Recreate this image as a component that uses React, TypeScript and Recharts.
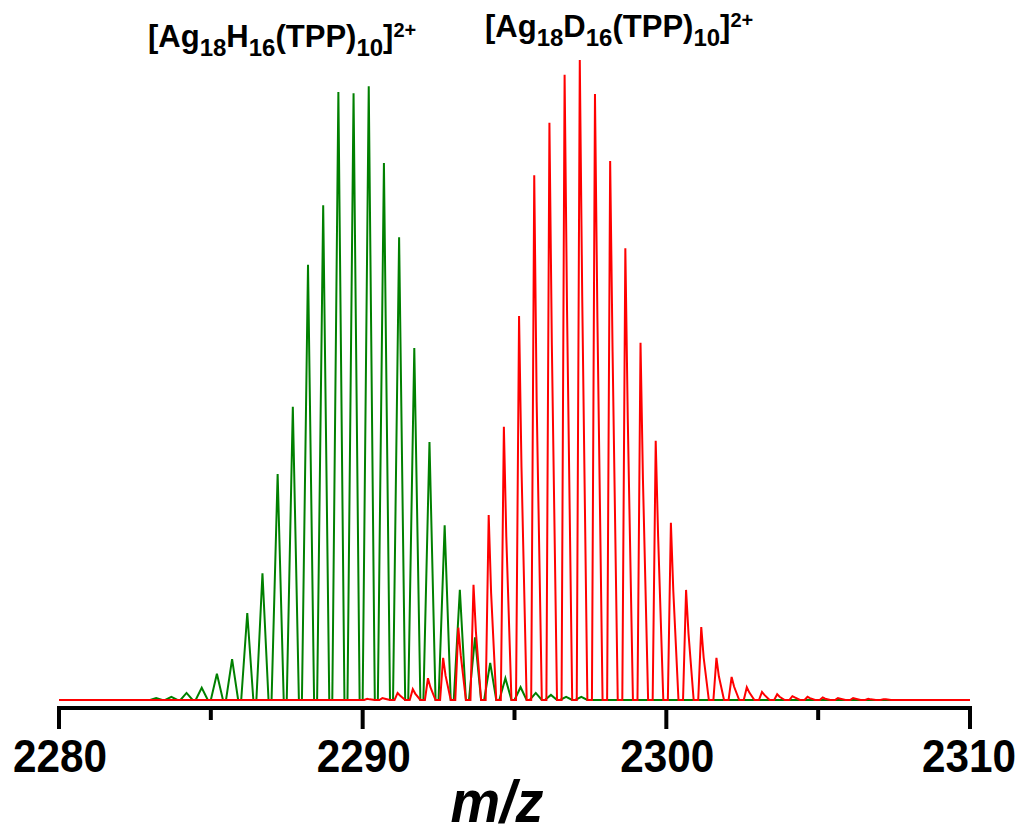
import React from 'react';
import { LineChart, Line, XAxis, YAxis } from 'recharts';

// Peak centroids (m/z) and apex intensities
const greenPeakMz = [2283.2, 2283.7, 2284.2, 2284.7, 2285.2, 2285.7, 2286.2, 2286.7, 2287.2, 2287.7, 2288.2, 2288.7, 2289.2, 2289.7, 2290.2, 2290.7, 2291.2, 2291.7, 2292.2, 2292.7, 2293.2, 2293.7, 2294.2, 2294.7, 2295.2, 2295.7, 2296.2, 2296.7, 2297.2];
const greenPeakInt = [0.3, 0.5, 1.1, 1.9, 4.1, 6.4, 13.6, 19.8, 35.3, 45.8, 68.0, 77.3, 95.0, 94.8, 95.9, 83.9, 72.3, 55.0, 40.3, 27.3, 17.2, 9.8, 5.8, 3.4, 2.0, 1.1, 0.8, 0.5, 0.5];

const redPeakMz = [2290.15, 2290.65, 2291.15, 2291.65, 2292.15, 2292.65, 2293.15, 2293.65, 2294.15, 2294.65, 2295.15, 2295.65, 2296.15, 2296.65, 2297.15, 2297.65, 2298.15, 2298.65, 2299.15, 2299.65, 2300.15, 2300.65, 2301.15, 2301.65, 2302.15, 2302.65, 2303.15, 2303.65, 2304.15, 2304.65, 2305.15, 2305.65, 2306.15, 2306.65, 2307.15];
const redPeakInt = [0.2, 0.3, 1.1, 1.7, 3.4, 6.6, 11.3, 18.0, 28.9, 42.7, 60.0, 82.0, 90.2, 97.7, 100, 94.7, 84.2, 70.6, 55.8, 40.5, 27.7, 17.2, 11.4, 6.6, 3.6, 2.0, 1.25, 0.9, 0.6, 0.5, 0.4, 0.3, 0.3, 0.2, 0.1];
const redShoulderInt = [0.1, 0.2, 0.7, 1.0, 2.0, 3.8, 7.0, 10.6, 16.7, 25.5, 36.4, 46.6, 55.5, 61, 63, 59.7, 54.4, 44, 34.4, 25.5, 17, 10.4, 6.6, 3.7, 2.1, 1.2, 0.8, 0.5, 0.4, 0.3, 0.2, 0.2, 0.2, 0.1, 0.1];

const xTicks = [2280, 2285, 2290, 2295, 2300, 2305, 2310];
const majorTicks = [2280, 2290, 2300, 2310];
const xDomain = [2280, 2310];

type Pt = { mz: number; i: number };

function buildGreen(): Pt[] {
  const out: Pt[] = [{ mz: 2280, i: 0 }];
  greenPeakMz.forEach((m, k) => {
    out.push({ mz: m - 0.2, i: 0 });
    out.push({ mz: m, i: greenPeakInt[k] });
    out.push({ mz: m + 0.2, i: 0 });
  });
  out.push({ mz: 2310, i: 0 });
  return out;
}

function buildRed(): Pt[] {
  const out: Pt[] = [{ mz: 2280, i: 0 }];
  redPeakMz.forEach((m, k) => {
    out.push({ mz: m - 0.1, i: 0 });
    out.push({ mz: m, i: redPeakInt[k] });
    out.push({ mz: m + 0.08, i: redShoulderInt[k] });
    out.push({ mz: m + 0.25, i: 0 });
  });
  out.push({ mz: 2310, i: 0 });
  return out;
}

const greenData = buildGreen();
const redData = buildRed();

const FONT = '"Liberation Sans", Arial, Helvetica, sans-serif';

const Tick = (props: any) => {
  const { x, y, payload } = props;
  const v = payload.value;
  const major = majorTicks.includes(v);
  return (
    <g>
      <line x1={x} x2={x} y1={y - 2} y2={y + (major ? 21 : 12)} stroke="#000" strokeWidth={4} />
      {major && (
        <text
          x={v === 2310 ? x - 1 : x + 1}
          y={y + 64}
          textAnchor="middle"
          fontFamily={FONT}
          fontWeight="bold"
          fontSize={46}
          textLength={94}
          lengthAdjust="spacingAndGlyphs"
          fill="#000"
        >
          {v}
        </text>
      )}
    </g>
  );
};

const Title = ({ x, y, letter }: { x: number; y: number; letter: string }) => (
  <text x={x} y={y} fontFamily={FONT} fontWeight="bold" fontSize={31} fill="#000">
    <tspan>[Ag</tspan>
    <tspan fontSize={24} dy={9}>18</tspan>
    <tspan dy={-9}>{letter}</tspan>
    <tspan fontSize={24} dy={9}>16</tspan>
    <tspan dy={-9}>(TPP)</tspan>
    <tspan fontSize={24} dy={9}>10</tspan>
    <tspan dy={-9}>]</tspan>
    <tspan fontSize={20} dy={-10}>2+</tspan>
  </text>
);

export default function App() {
  return (
    <div style={{ position: 'absolute', left: 0, top: 0, width: 1025, height: 837, background: '#fff' }}>
      <LineChart width={1025} height={837} margin={{ top: 50, right: 55, bottom: 0, left: 59 }}>
        <XAxis
          dataKey="mz"
          type="number"
          domain={xDomain}
          ticks={xTicks}
          interval={0}
          allowDataOverflow
          height={129}
          tickSize={0}
          tickMargin={0}
          tickLine={false}
          axisLine={{ stroke: '#000', strokeWidth: 4 }}
          tick={<Tick />}
        />
        <YAxis hide type="number" domain={[-1.25, 101.5625]} allowDataOverflow />
        <Line data={greenData} dataKey="i" type="linear" stroke="#008000" strokeWidth={2} dot={false} activeDot={false} isAnimationActive={false} />
        <Line data={redData} dataKey="i" type="linear" stroke="#ff0000" strokeWidth={2} dot={false} activeDot={false} isAnimationActive={false} />
      </LineChart>
      <svg width={1025} height={837} style={{ position: 'absolute', left: 0, top: 0, pointerEvents: 'none' }}>
        <Title x={148} y={47} letter="H" />
        <Title x={485} y={37} letter="D" />
        <text
          x={497}
          y={822}
          textAnchor="middle"
          fontFamily={FONT}
          fontWeight="bold"
          fontStyle="italic"
          fontSize={60}
          textLength={93}
          lengthAdjust="spacingAndGlyphs"
          fill="#000"
        >
          m/z
        </text>
      </svg>
    </div>
  );
}
